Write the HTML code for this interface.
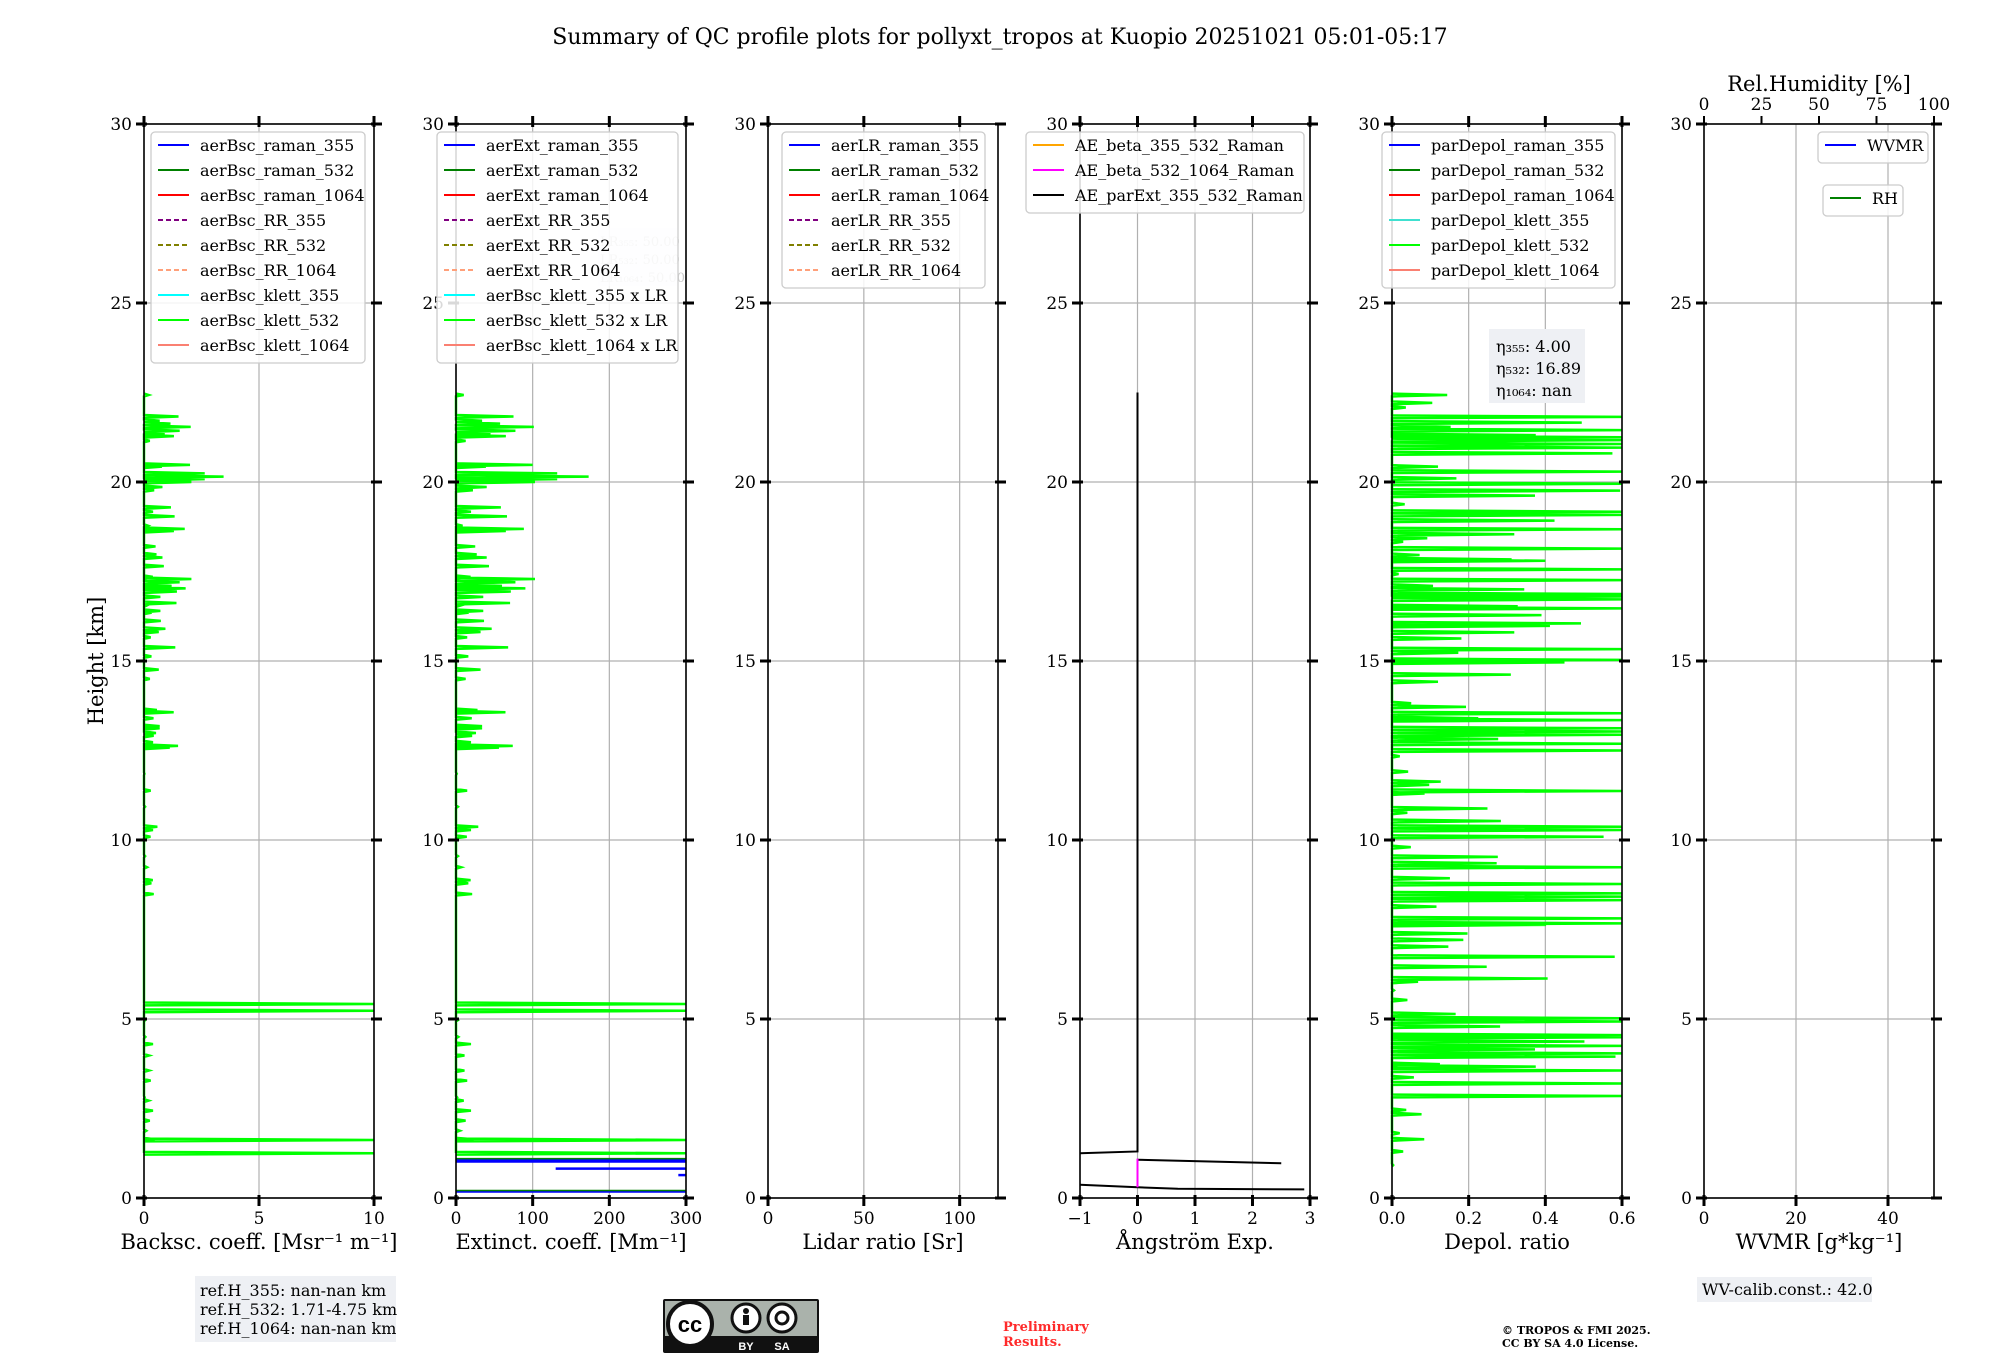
<!DOCTYPE html>
<html><head><meta charset="utf-8"><style>
html,body{margin:0;padding:0;background:#fff;}
svg{display:block;font-family:"DejaVu Serif","Liberation Serif",serif;}
</style></head><body>
<svg id="fig" width="2000" height="1360" viewBox="0 0 2000 1360" xmlns="http://www.w3.org/2000/svg">
<text x="1000" y="44" font-size="22" text-anchor="middle">Summary of QC profile plots for pollyxt_tropos at Kuopio 20251021 05:01-05:17</text>
<text transform="translate(103,661) rotate(-90)" font-size="21" text-anchor="middle">Height [km]</text>
<g>
<rect x="195" y="1276" width="201" height="66" fill="#eef0f4"/>
<text x="200" y="1296" font-size="16">ref.H_355: nan-nan km</text>
<text x="200" y="1315" font-size="16">ref.H_532: 1.71-4.75 km</text>
<text x="200" y="1334" font-size="16">ref.H_1064: nan-nan km</text>
</g>
<g>
<rect x="1697" y="1277" width="175" height="25" fill="#eef0f4"/>
<text x="1702" y="1295" font-size="16">WV-calib.const.: 42.0</text>
</g>
<g>
<rect x="663" y="1299" width="156" height="54" fill="#111" rx="2"/>
<rect x="665" y="1301" width="152" height="35" fill="#aab2ab"/>
<circle cx="690" cy="1324" r="22" fill="#fff" stroke="#111" stroke-width="4"/>
<text x="690" y="1332" font-size="22" font-weight="bold" text-anchor="middle" font-family="Liberation Sans,sans-serif">cc</text>
<circle cx="746" cy="1318" r="14" fill="#fff" stroke="#111" stroke-width="3"/>
<circle cx="746" cy="1311" r="3" fill="#111"/>
<rect x="743" y="1315" width="6" height="10" fill="#111"/>
<circle cx="782" cy="1318" r="14" fill="#fff" stroke="#111" stroke-width="3"/>
<circle cx="782" cy="1318" r="6" fill="none" stroke="#111" stroke-width="3"/>
<text x="746" y="1350" font-size="11" fill="#fff" text-anchor="middle" font-family="Liberation Sans,sans-serif" font-weight="bold">BY</text>
<text x="782" y="1350" font-size="11" fill="#fff" text-anchor="middle" font-family="Liberation Sans,sans-serif" font-weight="bold">SA</text>
</g>
<text x="1003" y="1331" font-size="13" font-weight="bold" fill="#ff2a2a">Preliminary</text>
<text x="1003" y="1346" font-size="13" font-weight="bold" fill="#ff2a2a">Results.</text>
<text x="1502" y="1334" font-size="11" font-weight="bold">© TROPOS &amp; FMI 2025.</text>
<text x="1502" y="1347" font-size="11" font-weight="bold">CC BY SA 4.0 License.</text>
</svg>
<script>
// ---- data ----
const bscH = [22.43,21.83,21.71,21.63,21.54,21.43,21.35,21.28,21.15,20.48,20.43,20.24,20.15,20.08,20.0,19.86,19.77,19.29,19.17,19.04,18.78,18.69,18.63,18.2,17.98,17.89,17.65,17.35,17.29,17.2,17.1,17.03,16.94,16.79,16.62,16.55,16.4,16.35,16.12,15.9,15.81,15.66,15.38,15.13,14.76,14.5,13.63,13.57,13.4,13.18,13.12,12.99,12.91,12.73,12.63,12.58,11.85,11.38,10.93,10.37,10.28,10.09,9.55,9.24,8.88,8.79,8.49,5.42,5.23,4.97,4.5,4.3,3.98,3.56,3.28,2.81,2.72,2.44,2.16,1.88,1.64,1.62,1.25];
const bscV = [0.2,1.5,0.68,1.15,2.03,1.55,0.9,1.3,0.25,2.0,0.78,2.64,3.46,2.64,2.06,0.8,0.44,1.17,0.39,1.33,0.17,1.77,1.3,0.5,0.54,0.8,0.86,0.38,2.06,1.55,1.2,1.81,1.43,0.71,1.41,0.12,0.71,0.33,0.73,0.93,0.64,0.29,1.36,0.32,0.64,0.25,0.56,1.29,0.41,0.68,0.68,0.52,0.42,0.39,1.48,1.12,0.02,0.29,0.05,0.58,0.39,0.28,0.05,0.13,0.38,0.32,0.42,12,12,0.05,0.06,0.39,0.22,0.22,0.29,0.03,0.2,0.39,0.25,0.1,0.46,12,12];
const lidarRatio = 50;
const extRamanH = [1.07,1.02,0.82,0.64,0.18];
const extRamanStart = [0,0,130,290,0];
const extRamanEnd = [300,300,300,300,300];
const depH = [22.43,22.21,22.08,21.82,21.66,21.54,21.45,21.31,21.25,21.17,21.06,20.96,20.8,20.43,20.29,20.1,19.95,19.76,19.62,19.38,19.17,19.08,18.92,18.68,18.54,18.43,18.33,18.14,17.96,17.84,17.8,17.56,17.43,17.26,17.1,17.0,16.87,16.8,16.72,16.53,16.47,16.28,16.05,15.98,15.8,15.63,15.33,15.23,15.03,14.96,14.62,14.42,13.82,13.72,13.54,13.4,13.35,13.12,13.03,12.94,12.82,12.69,12.5,12.34,11.91,11.63,11.54,11.37,11.3,10.88,10.76,10.53,10.37,10.28,10.09,9.8,9.53,9.35,9.24,8.93,8.77,8.51,8.42,8.32,8.14,7.81,7.67,7.63,7.39,7.21,7.02,6.74,6.46,6.13,6.04,5.8,5.53,5.14,5.02,4.93,4.79,4.55,4.49,4.37,4.25,4.15,4.04,3.95,3.74,3.67,3.56,3.37,3.2,2.85,2.46,2.34,1.81,1.64,1.3,0.92];
const depV = [0.144,0.105,0.036,0.6,0.495,0.153,0.6,0.375,0.6,0.6,0.6,0.6,0.575,0.12,0.6,0.168,0.6,0.595,0.373,0.033,0.6,0.6,0.424,0.6,0.319,0.092,0.029,0.6,0.072,0.312,0.4,0.6,0.017,0.6,0.107,0.345,0.6,0.6,0.6,0.328,0.6,0.39,0.493,0.412,0.319,0.181,0.6,0.173,0.6,0.45,0.31,0.12,0.05,0.193,0.6,0.225,0.6,0.6,0.6,0.6,0.277,0.6,0.6,0.02,0.042,0.127,0.097,0.6,0.085,0.249,0.04,0.284,0.6,0.6,0.552,0.049,0.276,0.273,0.6,0.151,0.6,0.6,0.6,0.6,0.116,0.6,0.6,0.402,0.197,0.186,0.147,0.581,0.247,0.406,0.068,0.005,0.04,0.166,0.6,0.6,0.282,0.6,0.6,0.502,0.6,0.373,0.6,0.583,0.125,0.375,0.6,0.057,0.6,0.6,0.037,0.077,0.02,0.084,0.029,0.003];
const aeParExtH = [22.5,1.3,1.25,null,1.07,0.97,null,0.37,0.3,0.26,0.24];
const aeParExtV = [0,0,-1,null,0,2.5,null,-1,0,0.7,2.9];
const aeBeta532H = [1.1,0.3];
const aeBeta532V = [0,0];
const heightTicks = [0,5,10,15,20,25,30];

// ---- layout ----
const NS='http://www.w3.org/2000/svg';
const svg=document.getElementById('fig');
const TOP=124, BOT=1198, W=230;
const lefts=[144,456,768,1080,1392,1704];
function yS(h){return BOT-h/30*(BOT-TOP);}
function mk(tag,attrs,name,parent){
  const el=document.createElementNS(NS,tag);
  for(const k in attrs) el.setAttribute(k,attrs[k]);
  
  
  (parent||svg).appendChild(el);
  return el;
}
function txt(x,y,s,size,anchor,name,parent,extra){
  const t=mk('text',Object.assign({x:x,y:y,'font-size':size,'text-anchor':anchor||'start'},extra||{}),name,parent);
  t.textContent=s;return t;
}
const panels=[
 {xmin:0,xmax:10,ticks:[0,5,10],label:'Backsc. coeff. [Msr⁻¹ m⁻¹]'},
 {xmin:0,xmax:300,ticks:[0,100,200,300],label:'Extinct. coeff. [Mm⁻¹]'},
 {xmin:0,xmax:120,ticks:[0,50,100],label:'Lidar ratio [Sr]'},
 {xmin:-1,xmax:3,ticks:[-1,0,1,2,3],label:'Ångström Exp.'},
 {xmin:0,xmax:0.6,ticks:[0,0.2,0.4,0.6],label:'Depol. ratio',fmt:v=>v.toFixed(1)},
 {xmin:0,xmax:50,ticks:[0,20,40],label:'WVMR [g*kg⁻¹]'}
];
const groups=[];
panels.forEach((p,i)=>{
  const L=lefts[i];
  const g=mk('g',{},'panel-'+(i+1));
  groups.push(g);
  p.x=v=>L+(v-p.xmin)/(p.xmax-p.xmin)*W;
  p.ticks.forEach(t=>{ mk('line',{x1:p.x(t),x2:p.x(t),y1:TOP,y2:BOT,stroke:'#b0b0b0','stroke-width':1.2},'x-gridline',g); });
  heightTicks.forEach(t=>{ mk('line',{x1:L,x2:L+W,y1:yS(t),y2:yS(t),stroke:'#b0b0b0','stroke-width':1.2},'y-gridline',g); });
});
function clipX(p,v){return Math.max(p.xmin,Math.min(p.xmax,v));}
function spikePath(p,H,V,scale){
  let d='';
  const b=p.x(0);
  for(let k=0;k<H.length;k++){
    const v=clipX(p,V[k]*scale);
    d+=(k?'L':'M')+b+' '+yS(H[k]+0.04)+'L'+p.x(v)+' '+yS(H[k])+'L'+b+' '+yS(H[k]-0.04);
  }
  return d;
}
mk('path',{d:spikePath(panels[0],bscH,bscV,1),fill:'none',stroke:'#00ff00','stroke-width':2.5},'aerbsc-klett-532-line',groups[0]);
mk('path',{d:spikePath(panels[1],bscH,bscV,lidarRatio),fill:'none',stroke:'#00ff00','stroke-width':2.5},'aerext-klett-532-line',groups[1]);
extRamanH.forEach((h,k)=>{
  mk('line',{x1:panels[1].x(extRamanStart[k]),x2:panels[1].x(extRamanEnd[k]),y1:yS(h),y2:yS(h),stroke:'#0000ff','stroke-width':2.5},'aerext-raman-355-line',groups[1]);
});
mk('line',{x1:panels[1].x(0),x2:panels[1].x(300),y1:yS(1.1),y2:yS(1.1),stroke:'#008000','stroke-width':1.5},'aerext-raman-532-line',groups[1]);
mk('line',{x1:panels[1].x(0),x2:panels[1].x(300),y1:yS(0.21),y2:yS(0.21),stroke:'#008000','stroke-width':1.5},'aerext-raman-532-line',groups[1]);
(function(){
  const p=panels[3];let d='',pen=false;
  aeParExtH.forEach((h,k)=>{ if(h===null){pen=false;return;} d+=(pen?'L':'M')+p.x(aeParExtV[k])+' '+yS(h); pen=true; });
  mk('path',{d:d,fill:'none',stroke:'#000','stroke-width':2},'ae-parext-355-532-line',groups[3]);
  mk('line',{x1:p.x(aeBeta532V[0]),x2:p.x(aeBeta532V[1]),y1:yS(aeBeta532H[0]),y2:yS(aeBeta532H[1]),stroke:'#ff00ff','stroke-width':2},'ae-beta-532-1064-line',groups[3]);
})();
mk('path',{d:spikePath(panels[4],depH,depV,1),fill:'none',stroke:'#00ff00','stroke-width':2.5},'pardepol-klett-532-line',groups[4]);

panels.forEach((p,i)=>{
  const L=lefts[i], g=groups[i];
  mk('rect',{x:L,y:TOP,width:W,height:BOT-TOP,fill:'none',stroke:'#000','stroke-width':1.6},'axes-frame',g);
  heightTicks.forEach(t=>{
    mk('line',{x1:L-8,x2:L+3,y1:yS(t),y2:yS(t),stroke:'#000','stroke-width':3},'y-tick',g);
    mk('line',{x1:L+W-3,x2:L+W+8,y1:yS(t),y2:yS(t),stroke:'#000','stroke-width':3},'y-tick-right',g);
    txt(L-12,yS(t)+6,String(t),17,'end','y-tick-label',g);
  });
  p.ticks.forEach(t=>{
    mk('line',{x1:p.x(t),x2:p.x(t),y1:BOT-3,y2:BOT+8,stroke:'#000','stroke-width':3},'x-tick',g);
    if(i!==5) mk('line',{x1:p.x(t),x2:p.x(t),y1:TOP-8,y2:TOP+3,stroke:'#000','stroke-width':3},'x-tick-top',g);
    txt(p.x(t),BOT+26,p.fmt?p.fmt(t):String(t).replace('-','−'),17,'middle','x-tick-label',g);
  });
  txt(L+W/2,BOT+51,p.label,21,'middle','x-axis-title',g);
});
[0,25,50,75,100].forEach(t=>{
  const x=lefts[5]+t/100*W;
  mk('line',{x1:x,x2:x,y1:TOP-8,y2:TOP,stroke:'#000','stroke-width':2},'rh-tick',groups[5]);
  txt(x,TOP-14,String(t),17,'middle','rh-tick-label',groups[5]);
});
txt(lefts[5]+W/2,TOP-33,'Rel.Humidity [%]',21,'middle','rh-axis-title',groups[5]);

(function(){
  const g=groups[1];
  mk('rect',{x:598,y:228,width:80,height:58,fill:'#f4f5f8',opacity:0.6},'lr-info-box',g);
  txt(600,246,'LR₃₅₅: 50.00',13,'start','lr-355-text',g,{fill:'#c8c8c8'});
  txt(600,264,'LR₅₃₂: 50.00',13,'start','lr-532-text',g,{fill:'#c8c8c8'});
  txt(600,282,'LR₁₀₆₄: 50.00',13,'start','lr-1064-text',g,{fill:'#c8c8c8'});
})();
(function(){
  const g=groups[4];
  mk('rect',{x:1489,y:329,width:96,height:74,fill:'#eef0f4'},'eta-box',g);
  txt(1496,352,'η₃₅₅: 4.00',16,'start','eta-355-text',g);
  txt(1496,374,'η₅₃₂: 16.89',16,'start','eta-532-text',g);
  txt(1496,396,'η₁₀₆₄: nan',16,'start','eta-1064-text',g);
})();

function legend(x,y,w,items,name){
  const g=mk('g',{},name);
  mk('rect',{x:x,y:y,width:w,height:items.length*25+6,rx:4,fill:'#fff','fill-opacity':0.85,stroke:'#cccccc','stroke-width':1.3},'legend-frame',g);
  items.forEach((it,k)=>{
    const cy=y+13+k*25;
    const a={x1:x+7,x2:x+38,y1:cy,y2:cy,stroke:it[1],'stroke-width':2};
    if(it[2]) a['stroke-dasharray']='5,3';
    mk('line',a,'legend-swatch',g);
    txt(x+49,cy+6,it[0],16,'start','legend-entry',g);
  });
}
legend(151,132,214,[['aerBsc_raman_355','#0000ff'],['aerBsc_raman_532','#008000'],['aerBsc_raman_1064','#ff0000'],['aerBsc_RR_355','#800080',1],['aerBsc_RR_532','#808000',1],['aerBsc_RR_1064','#ffa07a',1],['aerBsc_klett_355','#00ffff'],['aerBsc_klett_532','#00ff00'],['aerBsc_klett_1064','#fa8072']],'legend-backscatter');
legend(437,132,241,[['aerExt_raman_355','#0000ff'],['aerExt_raman_532','#008000'],['aerExt_raman_1064','#ff0000'],['aerExt_RR_355','#800080',1],['aerExt_RR_532','#808000',1],['aerExt_RR_1064','#ffa07a',1],['aerBsc_klett_355 x LR','#00ffff'],['aerBsc_klett_532 x LR','#00ff00'],['aerBsc_klett_1064 x LR','#fa8072']],'legend-extinction');
legend(782,132,203,[['aerLR_raman_355','#0000ff'],['aerLR_raman_532','#008000'],['aerLR_raman_1064','#ff0000'],['aerLR_RR_355','#800080',1],['aerLR_RR_532','#808000',1],['aerLR_RR_1064','#ffa07a',1]],'legend-lidar-ratio');
legend(1026,132,278,[['AE_beta_355_532_Raman','#ffa500'],['AE_beta_532_1064_Raman','#ff00ff'],['AE_parExt_355_532_Raman','#000000']],'legend-angstrom');
legend(1382,132,233,[['parDepol_raman_355','#0000ff'],['parDepol_raman_532','#008000'],['parDepol_raman_1064','#ff0000'],['parDepol_klett_355','#40e0d0'],['parDepol_klett_532','#00ff00'],['parDepol_klett_1064','#fa8072']],'legend-depol');
legend(1818,132,110,[['WVMR','#0000ff']],'legend-wvmr');
legend(1823,185,80,[['RH','#008000']],'legend-rh');
</script>
</body></html>
